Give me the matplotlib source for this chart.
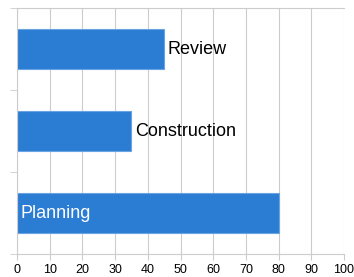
import matplotlib
matplotlib.use("Agg")
import matplotlib.pyplot as plt

phases = ["Planning", "Construction", "Review"]
progress = [80, 35, 45]
ticks = list(range(0, 101, 10))

plt.rcParams['font.family'] = ['Liberation Sans', 'DejaVu Sans']

fig = plt.figure(figsize=(3.54, 2.77), dpi=100)
ax = fig.add_axes([17/354, 23/277, 327/354, 246/277])

grid_c = "#cccccc"
bars = ax.barh(range(len(phases)), progress, height=0.49,
               color="#2b7cd3", edgecolor="#6aa3e2", linewidth=0.8, zorder=2)

for i, (name, v) in enumerate(zip(phases, progress)):
    if v > 60:
        ax.text(1, i, name, color="white", fontsize=13, va="center", ha="left", zorder=3)
    else:
        ax.text(v + 1, i, name, color="black", fontsize=13, va="center", ha="left", zorder=3)

ax.set_xlim(0, 100)
ax.set_ylim(-0.5, len(phases) - 0.5)
ax.set_xticks(ticks)
ax.tick_params(axis="x", labelsize=9, length=4, color=grid_c, pad=3)
ax.set_yticks([])
ax.set_yticks([i - 0.5 for i in range(len(phases) + 1)], minor=True)
ax.tick_params(axis="y", which="minor", length=5, color=grid_c, labelleft=False)
ax.grid(axis="x", color=grid_c, linewidth=0.8, zorder=0)

for s in ["left", "bottom", "top"]:
    ax.spines[s].set_color(grid_c)
ax.spines["right"].set_visible(False)

fig.savefig("out.png", dpi=100)
